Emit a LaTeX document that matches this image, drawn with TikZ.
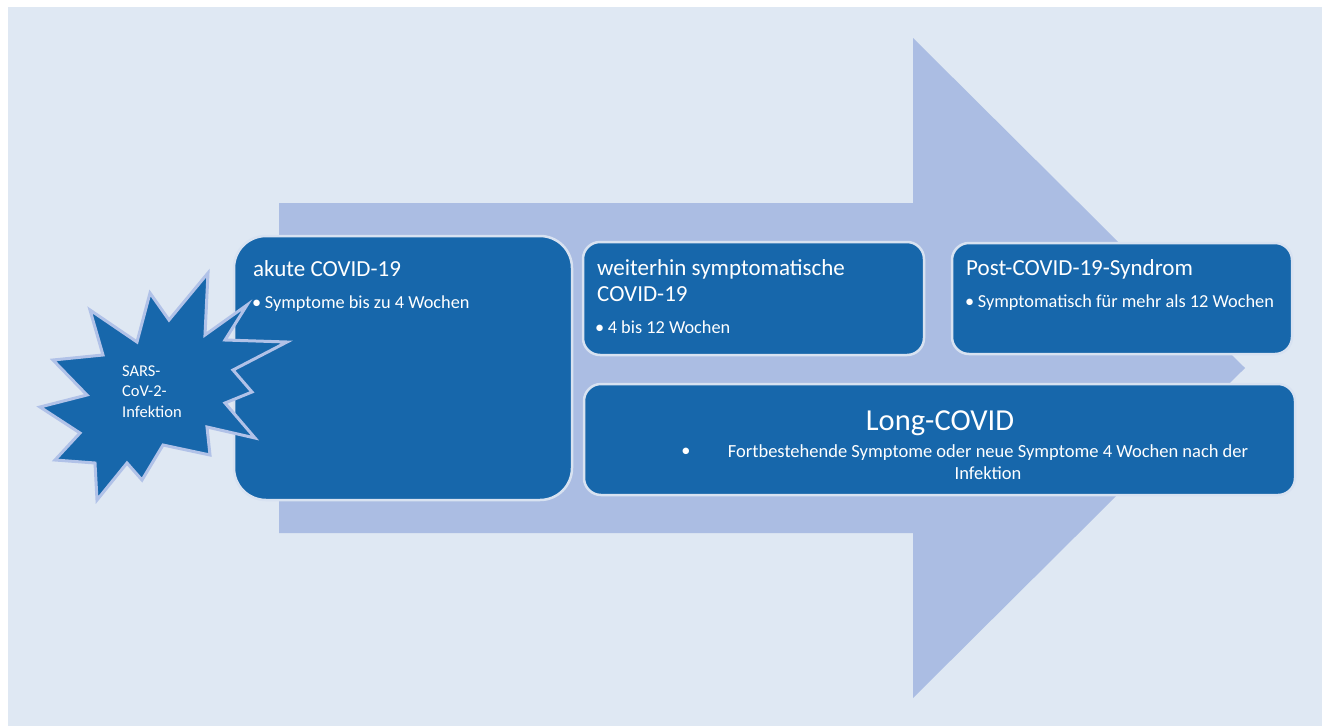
\documentclass[tikz,border=0pt]{standalone}
\usepackage{fontspec}
\setmainfont{Carlito}
\definecolor{bgblue}{HTML}{DFE8F3}
\definecolor{arrowblue}{HTML}{ABBDE3}
\definecolor{boxblue}{HTML}{1767AB}
\definecolor{rimblue}{HTML}{D8E2F1}
\definecolor{starrim}{HTML}{B1C2E8}
\begin{document}
\begin{tikzpicture}[x=1pt, y=-1pt,
  phase/.style={draw=rimblue, line width=2.5pt, fill=boxblue, rounded corners=#1, inner sep=0pt},
  head/.style={text=white, font=\fontsize{23}{26}\selectfont, anchor=base west, inner sep=0pt, align=left},
  item/.style={text=white, font=\fontsize{18.3}{22}\selectfont, anchor=base west, inner sep=0pt}]
\useasboundingbox (0,0) rectangle (1322,726);
\fill[bgblue] (8,7) rectangle (1322,726);

% big arrow behind the phases
\fill[arrowblue] (279,203) -- (913,203) -- (913,38) -- (1245,368) -- (913,698) -- (913,533) -- (279,533) -- cycle;

% phases
\node[phase=32pt, minimum width=338pt, minimum height=264pt] (akute) at (403,368) {};
\node[head] (akutetitle) at (253,276) {akute COVID-19};
\node[item] (akuteitem) at (252,308) {\textbullet\hspace{3.5pt}Symptome bis zu 4 Wochen};

\node[phase=17pt, minimum width=341pt, minimum height=113pt] (weiter) at (753.5,298.5) {};
% base of a multi-line node is its last line
\node[head] (weitertitle) at (597,301) {weiterhin symptomatische\\COVID-19};
\node[item] (weiteritem) at (595,333) {\textbullet\hspace{3.5pt}4 bis 12 Wochen};

\node[phase=17pt, minimum width=340pt, minimum height=111pt] (post) at (1122,298.5) {};
\node[head] (posttitle) at (966,275) {Post-COVID-19-Syndrom};
\node[item] (postitem) at (965,307) {\textbullet\hspace{3.5pt}Symptomatisch für mehr als 12 Wochen};

\node[phase=17pt, minimum width=711pt, minimum height=111pt] (long) at (939.5,439.5) {};
\node[text=white, font=\fontsize{30.5}{34}\selectfont, anchor=base, inner sep=0pt] (longtitle) at (940,430) {Long-COVID};
\node[item, anchor=center] (longdot) at (686,452) {\textbullet};
\node[item, anchor=base, align=center, font=\fontsize{18.5}{21.5}\selectfont] (longitem) at (988,479)
  {Fortbestehende Symptome oder neue Symptome 4 Wochen nach der\\Infektion};

% infection burst
\draw[starrim, line width=3pt, fill=boxblue, line join=miter]
  (208,273) -- (169,320) -- (150,293) -- (137,342) -- (90,310) -- (103,355)
  -- (53,360) -- (87,395) -- (40,407) -- (80,433) -- (55,460) -- (95,463)
  -- (97,500) -- (127,463) -- (142,480) -- (163,445) -- (210,455) -- (207,427)
  -- (255,438) -- (225,403) -- (252,392) -- (233,370) -- (287,342) -- (225,340)
  -- (247,305) -- (205,335) -- cycle;
\node[text=white, font=\fontsize{16.5}{20.5}\selectfont, anchor=base west, inner sep=0pt, align=left] (infekt) at (122,417) {SARS-\\CoV-2-\\Infektion};
\end{tikzpicture}
\end{document}
